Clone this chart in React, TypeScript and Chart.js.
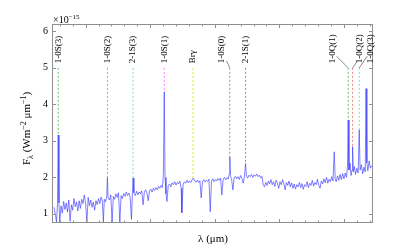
import React, { useEffect, useRef } from "react";
import { Chart, registerables } from "chart.js";

Chart.register(...registerables);

// ---------- DATA ----------
const wavelengths: number[] = [
  1.951, 1.9535, 1.955, 1.9565, 1.9576, 1.9588, 1.96, 1.962, 1.964, 1.966, 1.968, 1.97, 1.972, 1.974, 1.976, 1.978,
  1.98, 1.982, 1.984, 1.986, 1.988, 1.99, 1.992, 1.994, 1.996, 1.998, 2.0, 2.002, 2.004, 2.006, 2.008, 2.01,
  2.012, 2.014, 2.016, 2.018, 2.02, 2.022, 2.024, 2.026, 2.0275, 2.029, 2.031, 2.0328, 2.0338, 2.0348, 2.037, 2.039,
  2.041, 2.043, 2.045, 2.047, 2.049, 2.051, 2.053, 2.055, 2.057, 2.059, 2.061, 2.063, 2.065, 2.067, 2.069, 2.071,
  2.0725, 2.0735, 2.0748, 2.077, 2.079, 2.081, 2.083, 2.085, 2.087, 2.089, 2.091, 2.093, 2.095, 2.097, 2.099, 2.101,
  2.103, 2.105, 2.107, 2.109, 2.111, 2.113, 2.115, 2.117, 2.119, 2.1205, 2.1218, 2.123, 2.1245, 2.126, 2.128, 2.13,
  2.132, 2.134, 2.136, 2.138, 2.14, 2.142, 2.144, 2.146, 2.148, 2.149, 2.151, 2.153, 2.155, 2.157, 2.159, 2.161,
  2.163, 2.1655, 2.167, 2.169, 2.171, 2.173, 2.175, 2.177, 2.179, 2.181, 2.183, 2.185, 2.187, 2.189, 2.191, 2.193,
  2.195, 2.197, 2.199, 2.201, 2.203, 2.205, 2.207, 2.209, 2.211, 2.213, 2.215, 2.217, 2.219, 2.221, 2.2225, 2.2233,
  2.2243, 2.226, 2.228, 2.23, 2.232, 2.234, 2.236, 2.238, 2.24, 2.242, 2.244, 2.246, 2.2477, 2.249, 2.251, 2.253,
  2.255, 2.257, 2.259, 2.261, 2.263, 2.265, 2.267, 2.269, 2.271, 2.273, 2.275, 2.277, 2.279, 2.281, 2.283, 2.285,
  2.287, 2.289, 2.291, 2.293, 2.295, 2.297, 2.299, 2.301, 2.303, 2.305, 2.307, 2.309, 2.311, 2.313, 2.315, 2.317,
  2.319, 2.321, 2.323, 2.325, 2.327, 2.329, 2.331, 2.333, 2.335, 2.337, 2.339, 2.341, 2.343, 2.345, 2.347, 2.349,
  2.351, 2.353, 2.355, 2.357, 2.359, 2.361, 2.363, 2.365, 2.367, 2.369, 2.371, 2.373, 2.375, 2.377, 2.379, 2.381,
  2.383, 2.385, 2.3865, 2.388, 2.39, 2.392, 2.394, 2.396, 2.398, 2.4, 2.402, 2.404, 2.4055, 2.4066, 2.4078, 2.4095,
  2.411, 2.4125, 2.4134, 2.4145, 2.416, 2.418, 2.42, 2.422, 2.4237, 2.425, 2.427, 2.429, 2.431, 2.433, 2.4342, 2.4355,
  2.437, 2.439, 2.441, 2.443,
];

const flux: number[] = [
  1.18, 0.95, 0.78, 1.28, 3.16, 1.3, 0.78, 1.22, 1.02, 1.34, 1.12, 1.3, 1.05, 1.38, 0.8, 1.25,
  1.1, 1.42, 1.2, 1.33, 1.08, 1.36, 1.15, 1.4, 1.28, 1.52, 1.3, 0.76, 1.45, 1.22, 1.38, 1.18,
  1.32, 1.1, 1.36, 1.25, 1.42, 1.28, 1.46, 1.35, 0.78, 1.4, 1.33, 1.48, 1.99, 1.45, 1.38, 1.52,
  0.78, 1.48, 1.4, 1.55, 1.45, 1.58, 0.76, 1.5, 1.42, 1.56, 1.48, 1.6, 1.5, 1.57, 1.46, 0.85,
  1.55, 1.98, 1.58, 1.5, 1.62, 1.52, 1.6, 1.55, 1.63, 1.25, 1.6, 1.66, 1.57, 1.36, 1.64, 1.68,
  1.6, 1.7, 1.64, 1.72, 1.66, 1.75, 1.7, 1.78, 1.72, 2.1, 4.34, 2.0, 1.55, 1.34, 1.78, 1.82,
  1.74, 1.85, 1.8, 1.88, 1.79, 1.86, 1.82, 1.9, 1.7, 1.03, 1.8, 1.88, 1.84, 1.92, 1.85, 1.9,
  1.86, 1.96, 1.98, 1.9, 1.87, 1.93, 1.86, 1.91, 1.44, 1.88, 1.94, 1.87, 1.92, 1.89, 1.95, 1.06,
  1.9, 1.96, 1.88, 1.94, 1.9, 1.97, 1.92, 1.98, 1.52, 1.95, 2.0, 1.93, 1.99, 1.95, 2.1, 2.57,
  2.05, 1.96, 1.66, 1.98, 2.03, 1.96, 2.02, 1.94, 2.05, 1.98, 1.84, 2.02, 2.38, 2.04, 1.98, 2.06,
  2.02, 2.08, 2.0, 2.07, 2.03, 2.09, 2.02, 2.06, 1.98, 2.03, 1.8, 1.74, 1.86, 1.78, 1.9, 1.82,
  1.94, 1.8, 1.88, 1.75, 1.92, 1.84, 1.7, 1.88, 1.8, 1.94, 1.82, 1.66, 1.86, 1.78, 1.9, 1.74,
  1.85, 1.7, 1.82, 1.68, 1.8, 1.74, 1.86, 1.72, 1.83, 1.67, 1.8, 1.75, 1.88, 1.72, 1.84, 1.78,
  1.92, 1.76, 1.86, 1.8, 1.95, 1.78, 1.7, 1.9, 1.82, 1.96, 1.85, 2.0, 1.84, 1.95, 1.88, 2.02,
  1.9, 2.7, 1.95, 1.88, 2.04, 1.92, 2.08, 1.94, 2.1, 1.96, 2.12, 2.0, 2.3, 3.57, 2.2, 2.39,
  2.05, 2.2, 2.84, 2.15, 2.3, 2.08, 2.25, 2.12, 3.3, 2.2, 2.35, 2.1, 2.28, 2.15, 4.43, 2.4,
  2.18, 2.45, 2.25, 2.32,
];

const lineNames: string[] = [
  "1-0S(3)", "1-0S(2)", "2-1S(3)", "1-0S(1)", "Brγ", "1-0S(0)", "2-1S(1)", "1-0Q(1)", "1-0Q(2)", "1-0Q(3)",
];
const lineWavelengths: number[] = [1.9576, 2.0338, 2.0735, 2.1218, 2.1661, 2.2233, 2.2477, 2.4066, 2.4134, 2.4237];
const lineMarkerTop: number[] = [5.0, 5.0, 5.0, 5.0, 5.0, 5.0, 5.0, 5.0, 5.0, 5.0];
const lineMarkerBottom: number[] = [3.16, 1.99, 1.98, 4.34, 1.98, 2.57, 2.38, 3.57, 2.84, 3.3];

const yTickValues: number[] = [1, 2, 3, 4, 5, 6];
const xMinorTicks: number[] = [
  1.96, 1.98, 2.0, 2.02, 2.04, 2.06, 2.08, 2.1, 2.12, 2.14, 2.16, 2.18, 2.2, 2.22, 2.24, 2.26, 2.28, 2.3, 2.32, 2.34,
  2.36, 2.38, 2.4, 2.42, 2.44,
];
const xMajorTicks: number[] = [2.0, 2.1, 2.2, 2.3, 2.4];

// ---------- STYLES ----------
const markerColors = [
  "#5cb85c", "#f07a7a", "#5fd8d8", "#ff70e8", "#dede3c", "#8a8a8a", "#7f74ee", "#5cb85c", "#f07a7a", "#5fd8d8",
];
const labelShift = [0, 0, 0, 0, 0, -8.6, 0, -16, 6.7, 11.3];
const leaderStart: Array<[number, number] | null> = [
  null, null, null, null, null, [5.3, -7], null, [4.3, -11.6], [-2, -6.6], [-3.3, -11.6],
];
const SERIF = "'Liberation Serif', 'DejaVu Serif', serif";
const FRAME = "#8f8f8f";

type Seg = { t: string; size: number; dy: number };

function drawRich(ctx: CanvasRenderingContext2D, segs: Seg[], x0: number, y0: number, align: "left" | "center") {
  let total = 0;
  const widths = segs.map((s) => {
    ctx.font = `${s.size}px ${SERIF}`;
    const w = ctx.measureText(s.t).width;
    total += w;
    return w;
  });
  let x = align === "center" ? x0 - total / 2 : x0;
  segs.forEach((s, i) => {
    ctx.font = `${s.size}px ${SERIF}`;
    ctx.fillText(s.t, x, y0 + s.dy);
    x += widths[i];
  });
}

const decorPlugin = {
  id: "decor",
  afterDatasetsDraw(chart: any) {
    const ctx: CanvasRenderingContext2D = chart.ctx;
    const xs = chart.scales.x;
    const ys = chart.scales.y;
    const a = chart.chartArea;
    ctx.save();
    // frame
    ctx.strokeStyle = FRAME;
    ctx.lineWidth = 1;
    ctx.strokeRect(Math.round(a.left) + 0.5, Math.round(a.top) + 0.5, Math.round(a.right - a.left) - 1, Math.round(a.bottom - a.top) - 1);
    // x ticks (inward, top and bottom)
    ctx.beginPath();
    xMinorTicks.forEach((v) => {
      const px = Math.round(xs.getPixelForValue(v)) + 0.5;
      const len = xMajorTicks.some((m) => Math.abs(m - v) < 1e-6) ? 4 : 2.5;
      ctx.moveTo(px, a.bottom);
      ctx.lineTo(px, a.bottom - len);
      ctx.moveTo(px, a.top);
      ctx.lineTo(px, a.top + len);
    });
    // y ticks (inward, left and right)
    yTickValues.forEach((v) => {
      const py = Math.round(ys.getPixelForValue(v)) + 0.5;
      ctx.moveTo(a.left, py);
      ctx.lineTo(a.left + 4, py);
      ctx.moveTo(a.right, py);
      ctx.lineTo(a.right - 4, py);
    });
    ctx.stroke();

    // line labels
    ctx.fillStyle = "#000";
    lineNames.forEach((name, i) => {
      const lx = xs.getPixelForValue(lineWavelengths[i]);
      const ty = ys.getPixelForValue(lineMarkerTop[i]);
      const tx = lx + labelShift[i];
      ctx.save();
      ctx.translate(tx, ty - 4.5);
      ctx.rotate(-Math.PI / 2);
      ctx.font = `9px ${SERIF}`;
      ctx.textAlign = "left";
      ctx.textBaseline = "middle";
      ctx.fillText(name, 0, 0);
      ctx.restore();
      const ls = leaderStart[i];
      if (ls) {
        ctx.strokeStyle = "#555";
        ctx.lineWidth = 0.7;
        ctx.beginPath();
        ctx.moveTo(tx + ls[0], ty + ls[1]);
        ctx.lineTo(lx, ty);
        ctx.stroke();
      }
    });

    // x10^-15
    ctx.fillStyle = "#000";
    ctx.textBaseline = "alphabetic";
    ctx.textAlign = "left";
    drawRich(ctx, [
      { t: "×10", size: 10, dy: 0 },
      { t: "−15", size: 7, dy: -4 },
    ], a.left + 1, a.top - 1.5, "left");

    // x title
    drawRich(ctx, [
      { t: "λ", size: 11, dy: 0 },
      { t: " (μm)", size: 11, dy: 0 },
    ], (a.left + a.right) / 2 + 0.5, 242, "center");

    // y title
    ctx.save();
    ctx.translate(30, (a.top + a.bottom) / 2 + 5);
    ctx.rotate(-Math.PI / 2);
    drawRich(ctx, [
      { t: "F", size: 11, dy: 0 },
      { t: "λ", size: 8, dy: 2.5 },
      { t: " (Wm", size: 11, dy: 0 },
      { t: "−2", size: 8, dy: -4.5 },
      { t: " μm", size: 11, dy: 0 },
      { t: "−1", size: 8, dy: -4.5 },
      { t: ")", size: 11, dy: 0 },
    ], 0, 0, "center");
    ctx.restore();

    ctx.restore();
  },
};

export default function App() {
  const ref = useRef<HTMLCanvasElement | null>(null);
  useEffect(() => {
    if (!ref.current) return;
    const spectrum = wavelengths.map((w, i) => ({ x: w, y: flux[i] }));
    const markers = lineNames.map((name, i) => ({
      label: name,
      data: [
        { x: lineWavelengths[i], y: lineMarkerTop[i] },
        { x: lineWavelengths[i], y: lineMarkerBottom[i] },
      ],
      borderColor: markerColors[i],
      borderWidth: 0.9,
      borderDash: [2, 2],
      pointRadius: 0,
      fill: false,
    }));
    const chart = new Chart(ref.current, {
      type: "line",
      data: {
        datasets: [
          {
            label: "spectrum",
            data: spectrum,
            borderColor: "rgba(55,55,255,0.8)",
            borderWidth: 0.8,
            pointRadius: 0,
            tension: 0,
            fill: false,
          },
          ...markers,
        ],
      },
      options: {
        animation: false,
        responsive: false,
        maintainAspectRatio: false,
        events: [],
        layout: { padding: { left: 0, right: 42, top: 24, bottom: 26 } },
        plugins: { legend: { display: false }, tooltip: { enabled: false }, title: { display: false } },
        scales: {
          x: { type: "linear", min: 1.948, max: 2.445, display: false },
          y: {
            type: "linear",
            min: 0.75,
            max: 6.2,
            grid: { display: false, drawTicks: false },
            border: { display: false },
            ticks: {
              color: "#000",
              font: { family: SERIF, size: 10 },
              padding: 4,
              callback: (v: any) => String(v),
            },
            afterBuildTicks: (s: any) => {
              s.ticks = yTickValues.map((v) => ({ value: v }));
            },
            afterFit: (s: any) => {
              s.width = 52;
            },
          },
        },
      } as any,
      plugins: [decorPlugin],
    });
    return () => chart.destroy();
  }, []);
  return (
    <div style={{ position: "fixed", left: 0, top: 0, width: 415, height: 249, background: "#fff" }}>
      <canvas ref={ref} width={415} height={249} style={{ width: 415, height: 249, display: "block" }} />
    </div>
  );
}
